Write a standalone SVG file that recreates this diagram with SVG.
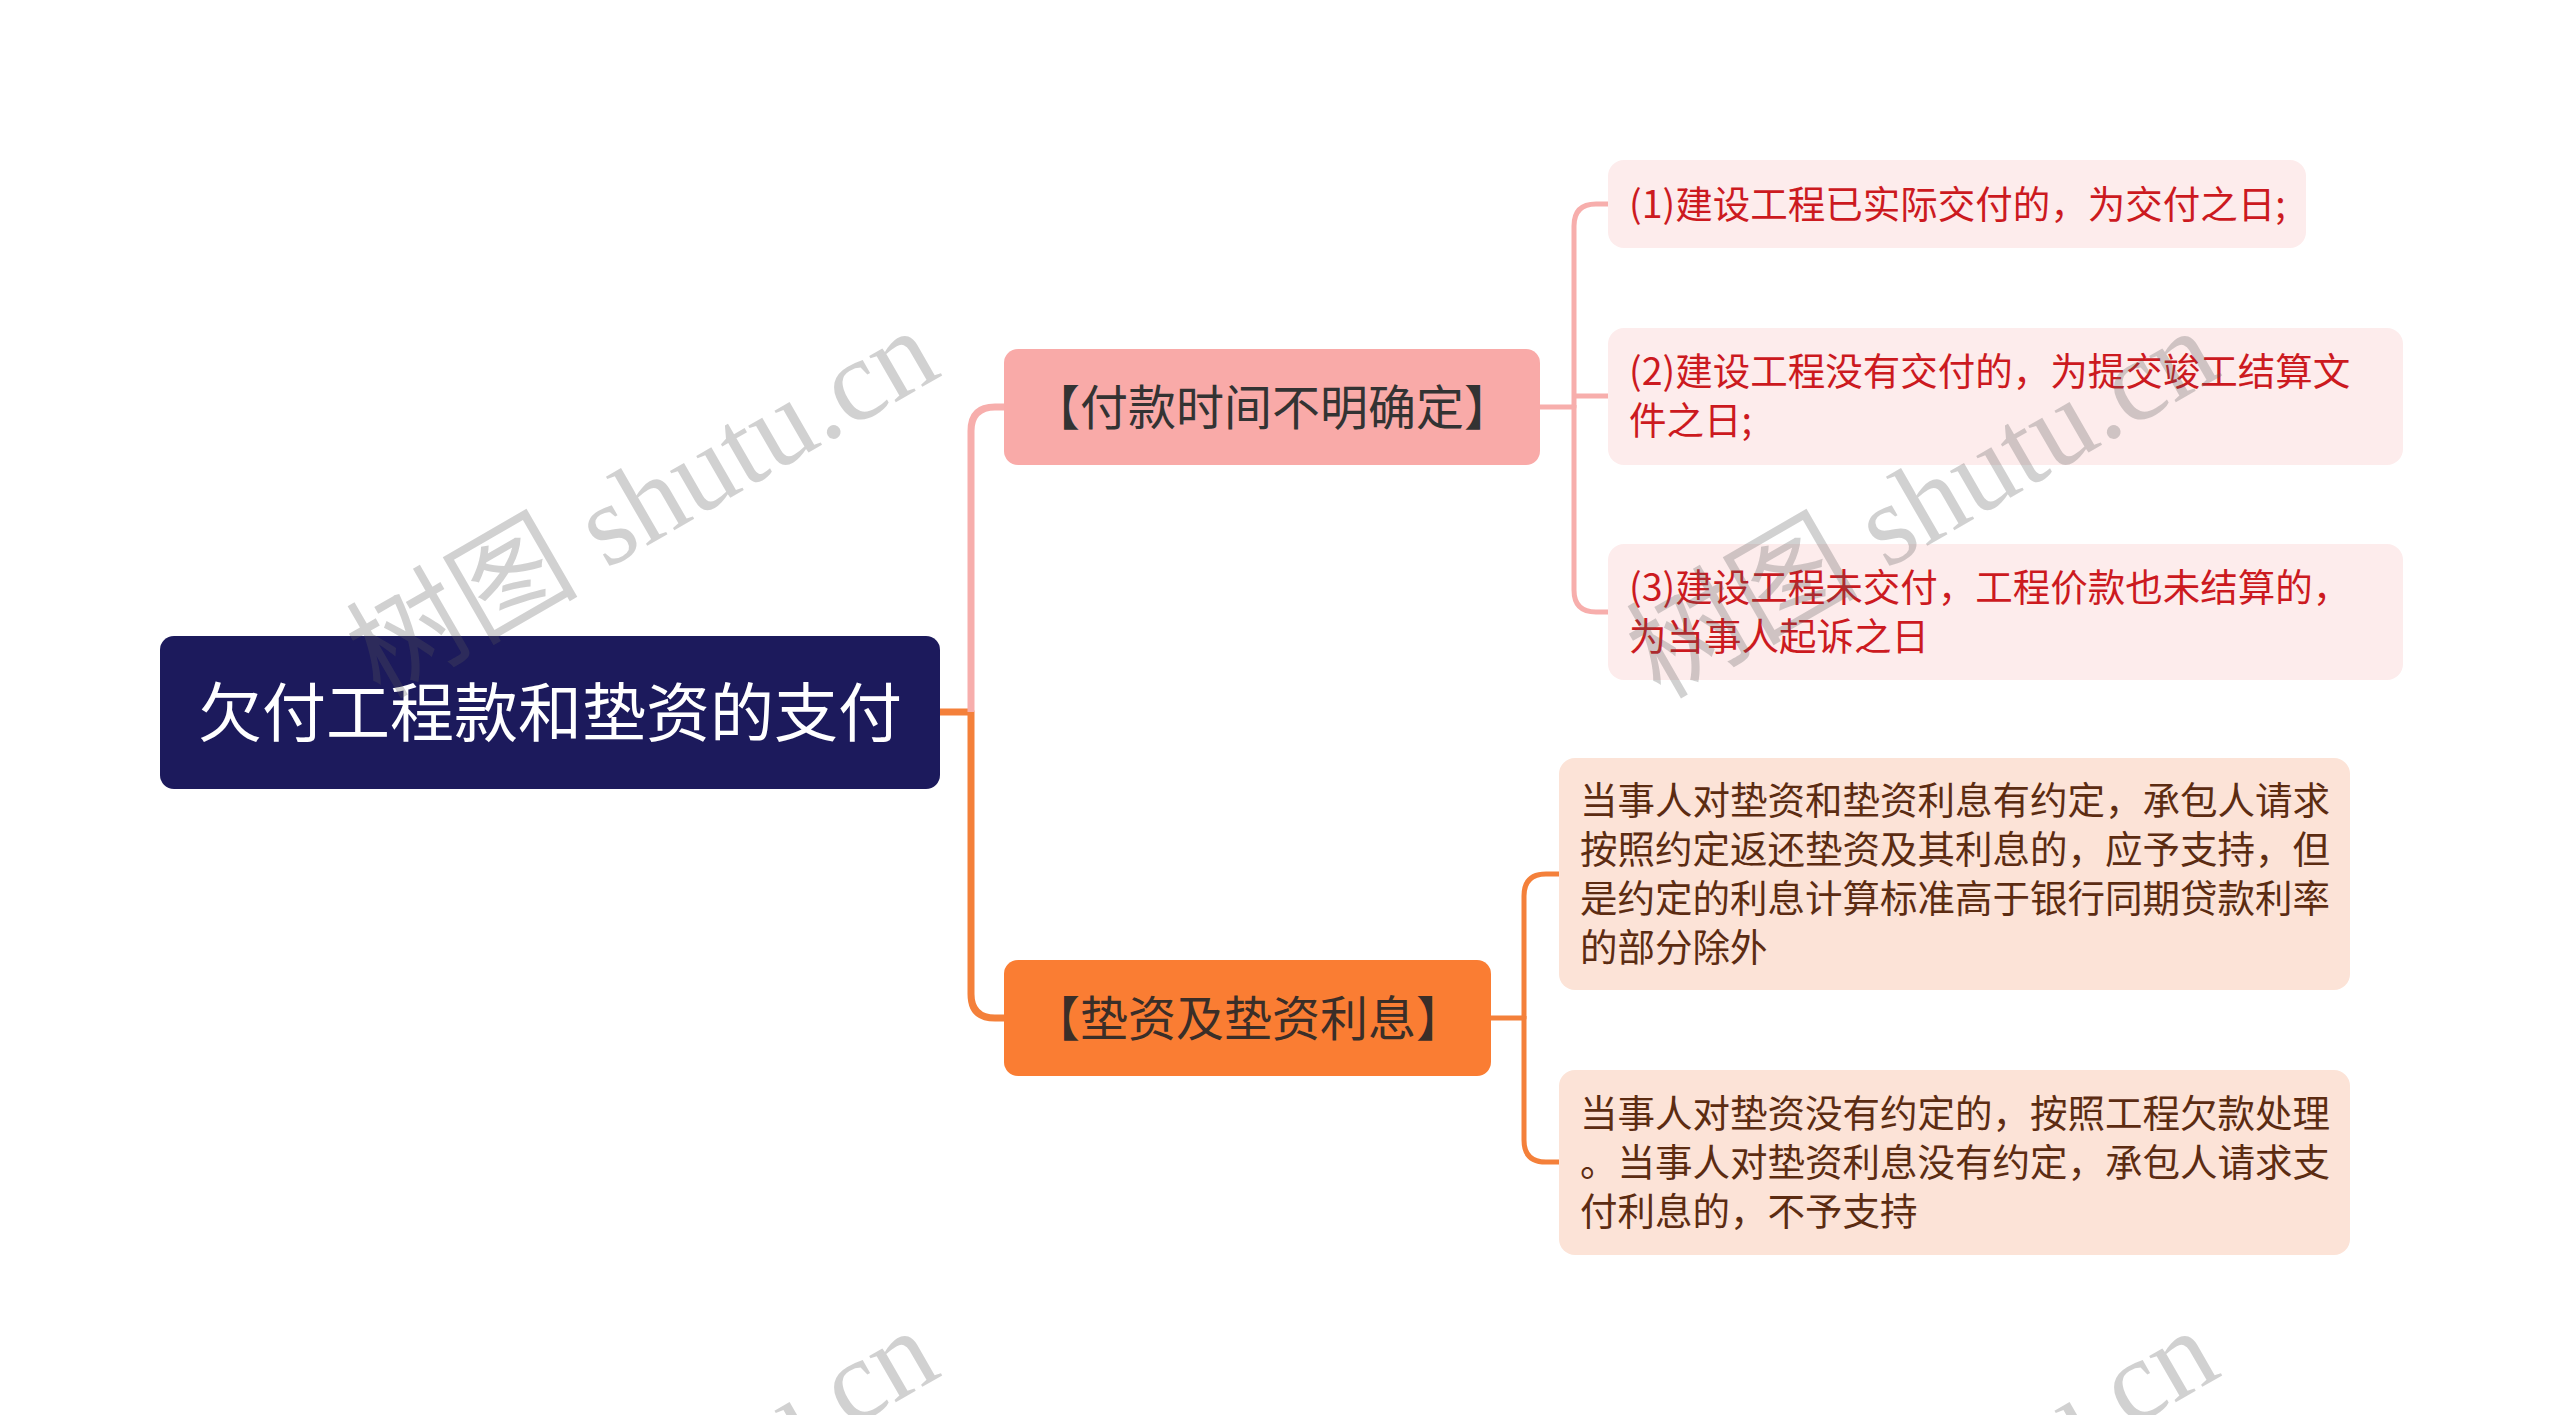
<svg xmlns="http://www.w3.org/2000/svg" width="2560" height="1415" viewBox="0 0 2560 1415">
<style>
text{font-family:"Noto Sans CJK SC","Noto Sans",sans-serif}
.conn{fill:none;stroke-linecap:butt;stroke-linejoin:round}
.pk{stroke:#F7AEAC}
.or{stroke:#F4803A}
.w1{stroke-width:7}
.w2{stroke-width:5}
.root-t{fill:#FFFFFF;font-size:64px}
.n1-t{fill:#333333;font-size:48px}
.n2-t{fill:#3A2E28;font-size:48px}
.lp-t{fill:#CC1A1F;font-size:37.5px}
.lo-t{fill:#5C2C12;font-size:37.5px}
.wm{font-family:"Liberation Serif","Noto Sans CJK SC",serif;font-size:116px;fill:#5A5A5A;fill-opacity:0.28}
</style>
<rect width="2560" height="1415" fill="#FFFFFF"/>
<g id="connectors">
<path class="conn or w1" d="M940 712 H971 V994 Q971 1018 995 1018 H1006"/>
<path class="conn pk w1" d="M971 712 V431 Q971 407 995 407 H1006"/>
<path class="conn pk w2" d="M1539 407 H1574 V226 Q1574 204 1596 204 H1610"/>
<path class="conn pk w2" d="M1574 396 H1610"/>
<path class="conn pk w2" d="M1574 405 V590 Q1574 612 1596 612 H1610"/>
<path class="conn or w2" d="M1490 1018 H1524 V896 Q1524 874 1546 874 H1561"/>
<path class="conn or w2" d="M1524 1016 V1140 Q1524 1162 1546 1162 H1561"/>
</g>
<g id="root">
<rect x="160" y="636" width="780" height="153" rx="14" fill="#1C1A5C"/>
<text class="root-t" x="550" y="736" text-anchor="middle">欠付工程款和垫资的支付</text>
</g>
<g id="node-1">
<rect x="1004" y="349" width="536" height="116" rx="14" fill="#F9AAA8"/>
<text class="n1-t" x="1272" y="425" text-anchor="middle">【付款时间不明确定】</text>
</g>
<g id="node-2">
<rect x="1004" y="960" width="487" height="116" rx="14" fill="#FA7D33"/>
<text class="n2-t" x="1248" y="1036" text-anchor="middle">【垫资及垫资利息】</text>
</g>
<g id="leaf-1-1">
<rect x="1608" y="160" width="698" height="88" rx="16" fill="#FDECEC"/>
<text class="lp-t" x="1629" y="218">(1)建设工程已实际交付的，为交付之日;</text>
</g>
<g id="leaf-1-2">
<rect x="1608" y="328" width="795" height="137" rx="16" fill="#FDECEC"/>
<text class="lp-t" x="1629" y="385">(2)建设工程没有交付的，为提交竣工结算文</text>
<text class="lp-t" x="1629" y="434">件之日;</text>
</g>
<g id="leaf-1-3">
<rect x="1608" y="544" width="795" height="136" rx="16" fill="#FDECEC"/>
<text class="lp-t" x="1629" y="601">(3)建设工程未交付，工程价款也未结算的，</text>
<text class="lp-t" x="1629" y="650">为当事人起诉之日</text>
</g>
<g id="leaf-2-1">
<rect x="1559" y="758" width="791" height="232" rx="16" fill="#FCE3D7"/>
<text class="lo-t" x="1580" y="814">当事人对垫资和垫资利息有约定，承包人请求</text>
<text class="lo-t" x="1580" y="863">按照约定返还垫资及其利息的，应予支持，但</text>
<text class="lo-t" x="1580" y="912">是约定的利息计算标准高于银行同期贷款利率</text>
<text class="lo-t" x="1580" y="961">的部分除外</text>
</g>
<g id="leaf-2-2">
<rect x="1559" y="1070" width="791" height="185" rx="16" fill="#FCE3D7"/>
<text class="lo-t" x="1580" y="1127">当事人对垫资没有约定的，按照工程欠款处理</text>
<text class="lo-t" x="1580" y="1176">。当事人对垫资利息没有约定，承包人请求支</text>
<text class="lo-t" x="1580" y="1225">付利息的，不予支持</text>
</g>
<g id="watermarks">
<text class="wm" transform="translate(380 700) rotate(-30)">树图 shutu.cn</text>
<text class="wm" transform="translate(1660 700) rotate(-30)">树图 shutu.cn</text>
<text class="wm" transform="translate(380 1700) rotate(-30)">树图 shutu.cn</text>
<text class="wm" transform="translate(1660 1700) rotate(-30)">树图 shutu.cn</text>
</g>
</svg>
